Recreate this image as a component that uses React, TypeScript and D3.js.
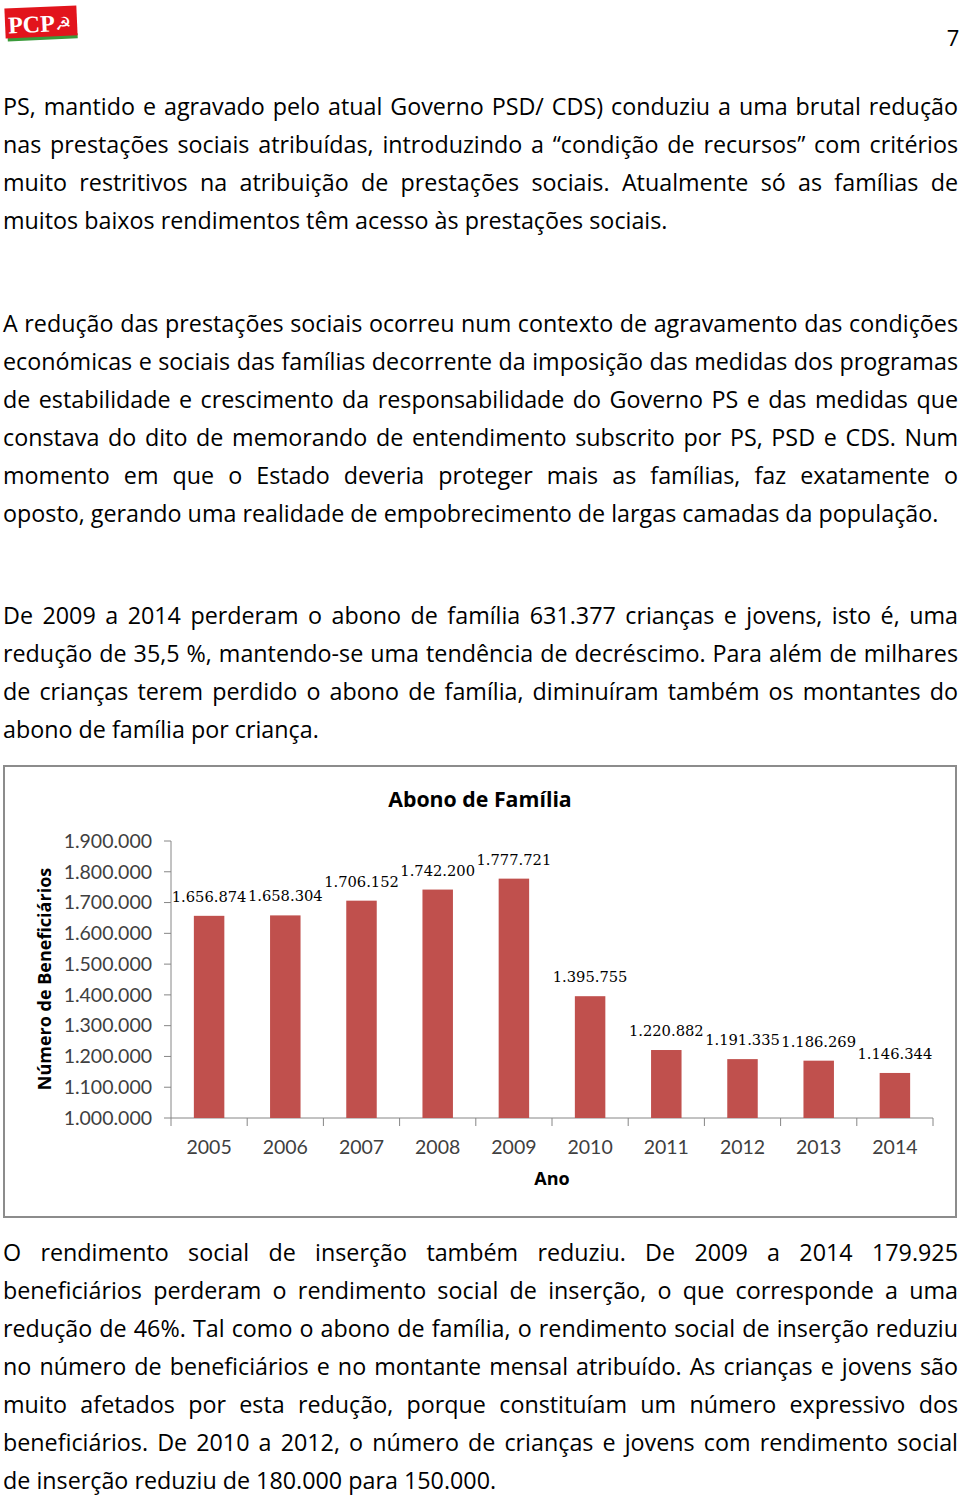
import React, { useEffect, useState } from "react";
import * as d3 from "d3";

// ---------- Data ----------
const years = ["2005", "2006", "2007", "2008", "2009", "2010", "2011", "2012", "2013", "2014"];
const beneficiaries = [1656874, 1658304, 1706152, 1742200, 1777721, 1395755, 1220882, 1191335, 1186269, 1146344];
const yTicks = [1000000, 1100000, 1200000, 1300000, 1400000, 1500000, 1600000, 1700000, 1800000, 1900000];
const chartTitle = "Abono de Família";
const yAxisTitle = "Número de Beneficiários";
const xAxisTitle = "Ano";

const para1 = [
  "PS, mantido e agravado pelo atual Governo PSD/ CDS) conduziu a uma brutal redução",
  "nas prestações sociais atribuídas, introduzindo a “condição de recursos” com critérios",
  "muito restritivos na atribuição de prestações sociais. Atualmente só as famílias de",
  "muitos baixos rendimentos têm acesso às prestações sociais.",
];
const para2 = [
  "A redução das prestações sociais ocorreu num contexto de agravamento das condições",
  "económicas e sociais das famílias decorrente da imposição das medidas dos programas",
  "de estabilidade e crescimento da responsabilidade do Governo PS e das medidas que",
  "constava do dito de memorando de entendimento subscrito por PS, PSD e CDS. Num",
  "momento em que o Estado deveria proteger mais as famílias, faz exatamente o",
  "oposto, gerando uma realidade de empobrecimento de largas camadas da população.",
];
const para3 = [
  "De 2009 a 2014 perderam o abono de família 631.377 crianças e jovens, isto é, uma",
  "redução de 35,5 %, mantendo-se uma tendência de decréscimo. Para além de milhares",
  "de crianças terem perdido o abono de família, diminuíram também os montantes do",
  "abono de família por criança.",
];
const para4 = [
  "O rendimento social de inserção também reduziu. De 2009 a 2014 179.925",
  "beneficiários perderam o rendimento social de inserção, o que corresponde a uma",
  "redução de 46%. Tal como o abono de família, o rendimento social de inserção reduziu",
  "no número de beneficiários e no montante mensal atribuído. As crianças e jovens são",
  "muito afetados por esta redução, porque constituíam um número expressivo dos",
  "beneficiários. De 2010 a 2012, o número de crianças e jovens com rendimento social",
  "de inserção reduziu de 180.000 para 150.000.",
];

// ---------- Layout ----------
const W = 960;
const H = 1496;
const TEXT_LEFT = 3;
const TEXT_RIGHT = 958;
const LINE_H = 38;
const BODY_FONT = "Open Sans";
const BODY_SIZE = 23.3;

const fmt = d3
  .formatLocale({ decimal: ",", thousands: ".", grouping: [3], currency: ["", ""] })
  .format(",d");

let canvasCtx: CanvasRenderingContext2D | null = null;
function measure(text: string, font: string): number {
  if (!canvasCtx) {
    const c = document.createElement("canvas");
    canvasCtx = c.getContext("2d");
  }
  canvasCtx!.font = font;
  return canvasCtx!.measureText(text).width;
}

function Paragraph({ lines, y0 }: { lines: string[]; y0: number }) {
  const font = `${BODY_SIZE}px "${BODY_FONT}"`;
  return (
    <g>
      {lines.map((line, i) => {
        const y = y0 + i * LINE_H;
        const last = i === lines.length - 1;
        const words = line.split(" ");
        if (last || words.length < 2) {
          return (
            <text key={i} x={TEXT_LEFT} y={y}>
              {line}
            </text>
          );
        }
        const widths = words.map((w) => measure(w, font));
        const total = d3.sum(widths);
        const gap = (TEXT_RIGHT - TEXT_LEFT - total) / (words.length - 1);
        let x = TEXT_LEFT;
        const xs = widths.map((w) => {
          const cur = x;
          x += w + gap;
          return cur;
        });
        return (
          <text key={i} y={y}>
            {words.map((w, j) => (
              <tspan key={j} x={xs[j]}>
                {w}
              </tspan>
            ))}
          </text>
        );
      })}
    </g>
  );
}

function Chart() {
  const x0 = 171;
  const x1 = 933;
  const yBottom = 1118;
  const yTop = 841;
  const x = d3.scaleBand<string>().domain(years).range([x0, x1]).padding(0);
  const y = d3.scaleLinear().domain([1000000, 1900000]).range([yBottom, yTop]);
  const barW = x.bandwidth() / 2.5;
  const axisColor = "#868686";
  const tickEdges = years.map((yr) => x(yr)!).concat([x1]);
  const chartFont = "Lato";
  const boldFont = "Open Sans";
  return (
    <g>
      <rect x={4} y={766} width={952} height={451} fill="#fff" stroke="#8c8c8c" strokeWidth={2} />
      <text x={480} y={807} textAnchor="middle" fontFamily={boldFont} fontWeight="bold" fontSize={21.3} fill="#000">
        {chartTitle}
      </text>
      {/* y axis */}
      <line x1={x0} x2={x0} y1={yTop} y2={yBottom} stroke={axisColor} />
      {yTicks.map((t) => (
        <g key={t}>
          <line x1={x0 - 7} x2={x0} y1={y(t)} y2={y(t)} stroke={axisColor} />
          <text
            x={152}
            y={y(t)}
            dy="0.35em"
            textAnchor="end"
            fontFamily={chartFont}
            fontSize={19.5}
            fill="#404040"
          >
            {fmt(t)}
          </text>
        </g>
      ))}
      {/* x axis */}
      <line x1={x0} x2={x1} y1={yBottom} y2={yBottom} stroke={axisColor} />
      {tickEdges.map((tx, i) => (
        <line key={i} x1={tx} x2={tx} y1={yBottom} y2={yBottom + 8} stroke={axisColor} />
      ))}
      {years.map((yr) => (
        <text
          key={yr}
          x={x(yr)! + x.bandwidth() / 2}
          y={1154}
          textAnchor="middle"
          fontFamily={chartFont}
          fontSize={19.5}
          fill="#404040"
        >
          {yr}
        </text>
      ))}
      {/* bars */}
      {years.map((yr, i) => {
        const cx = x(yr)! + x.bandwidth() / 2;
        const top = y(beneficiaries[i]);
        return (
          <g key={yr}>
            <rect x={cx - barW / 2} y={top} width={barW} height={yBottom - top} fill="#c0504d" />
            <text
              x={cx}
              y={top - 14}
              textAnchor="middle"
              fontFamily="DejaVu Serif"
              fontSize={14.7}
              fill="#000"
            >
              {fmt(beneficiaries[i])}
            </text>
          </g>
        );
      })}
      <text
        transform="translate(51,979) rotate(-90)"
        textAnchor="middle"
        fontFamily={boldFont}
        fontWeight="bold"
        fontSize={18}
        fill="#000"
      >
        {yAxisTitle}
      </text>
      <text x={552} y={1185} textAnchor="middle" fontFamily={boldFont} fontWeight="bold" fontSize={18} fill="#000">
        {xAxisTitle}
      </text>
    </g>
  );
}

function Logo() {
  return (
    <g transform="rotate(-2.5 40 22)">
      <rect x={7} y={35} width={70} height={5} fill="#3a9a3a" />
      <rect x={5} y={7} width={72} height={30} fill="#e2141c" />
      <text x={8} y={32} fontFamily="Liberation Serif" fontWeight="bold" fontSize={24} fill="#fff">
        PCP
      </text>
      <text x={55} y={31} fontFamily="DejaVu Sans" fontSize={18} fill="#fff">
        ☭
      </text>
    </g>
  );
}

export default function App() {
  const [, setReady] = useState(0);
  useEffect(() => {
    (document as any).fonts?.ready.then(() => setReady(1));
  }, []);
  return (
    <svg
      width={W}
      height={H}
      viewBox={`0 0 ${W} ${H}`}
      style={{ position: "absolute", left: 0, top: 0, background: "#fff" }}
    >
      <rect width={W} height={H} fill="#fff" />
      <Logo />
      <text x={953} y={46} textAnchor="middle" fontFamily={BODY_FONT} fontSize={22} fill="#000">
        7
      </text>
      <g fontFamily={BODY_FONT} fontSize={BODY_SIZE} fill="#000">
        <Paragraph lines={para1} y0={115} />
        <Paragraph lines={para2} y0={332} />
        <Paragraph lines={para3} y0={624} />
        <Paragraph lines={para4} y0={1261} />
      </g>
      <Chart />
    </svg>
  );
}
